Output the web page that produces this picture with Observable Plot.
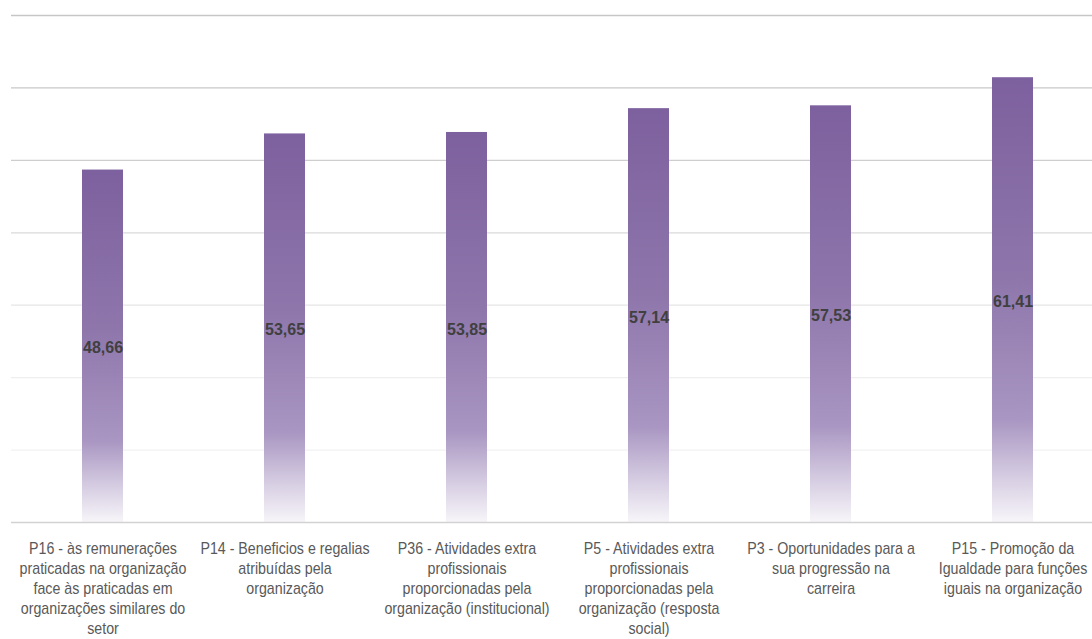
<!DOCTYPE html>
<html>
<head>
<meta charset="utf-8">
<script src="https://cdn.jsdelivr.net/npm/d3@7"></script>
<script src="https://cdn.jsdelivr.net/npm/@observablehq/plot@0.6"></script>
<style>
  html, body { margin: 0; padding: 0; background: #fff; overflow: hidden; }
  #chart { width: 1092px; height: 639px; overflow: hidden; }
  #chart svg { max-width: none !important; }
</style>
</head>
<body>
<div id="chart"></div>
<script>
// Category labels (wrapped as shown under each bar)
const categories = [
  "P16 - às remunerações\npraticadas na organização\nface às praticadas em\norganizações similares do\nsetor",
  "P14 - Beneficios e regalias\natribuídas pela\norganização",
  "P36 - Atividades extra\nprofissionais\nproporcionadas pela\norganização (institucional)",
  "P5 - Atividades extra\nprofissionais\nproporcionadas pela\norganização (resposta\nsocial)",
  "P3 - Oportunidades para a\nsua progressão na\ncarreira",
  "P15 - Promoção da\nIgualdade para funções\niguais na organização"
];
const values = [48.66, 53.65, 53.85, 57.14, 57.53, 61.41];

// Horizontal gridlines and their tones (darker at the top, fading downwards)
const gridTicks = [10, 20, 30, 40, 50, 60, 70];
const gridColors = ["#f2f2f2", "#eeeeee", "#e6e6e6", "#dadada", "#cecece", "#c8c8c8", "#c6c6c6"];

const data = categories.map((c, i) => ({category: c, value: values[i]}));
const grid = gridTicks.map((t, i) => ({tick: t, color: gridColors[i]}));
const fmt = v => v.toFixed(2).replace(".", ",");

const chart = Plot.plot({
  width: 1104,
  height: 639,
  marginLeft: 11,
  marginRight: 0,
  marginTop: 15,
  marginBottom: 117,
  style: {fontFamily: "'Liberation Sans', Arial, sans-serif", background: "#fff"},
  x: {domain: categories, paddingInner: 0.775, paddingOuter: 0.39, label: null},
  y: {domain: [0, 70], axis: null},
  color: {type: "identity"},
  marks: [
    Plot.ruleY(grid, {y: "tick", stroke: "color", strokeWidth: 1.3}),
    Plot.barY(data, {x: "category", y: "value", fill: "url(#barFade)"}),
    Plot.ruleY([0], {stroke: "#d2d2d2", strokeWidth: 1.5}),
    Plot.text(data, {
      x: "category",
      y: d => d.value / 2,
      text: d => fmt(d.value),
      fill: "#404040",
      fontWeight: "bold",
      fontSize: 16,
      dy: 2
    }),
    Plot.axisX({
      tickSize: 0,
      tickPadding: 17.5,
      fontSize: 16,
      lineHeight: 1.25,
      fill: "#595959",
      label: null
    })
  ]
});

// Vertical fade for each bar: purple at the top, fading to near-white at the base
const ns = "http://www.w3.org/2000/svg";
const defs = document.createElementNS(ns, "defs");
const grad = document.createElementNS(ns, "linearGradient");
grad.setAttribute("id", "barFade");
grad.setAttribute("x1", "0"); grad.setAttribute("y1", "0");
grad.setAttribute("x2", "0"); grad.setAttribute("y2", "1");
[["0", "#7d609e"], ["0.45", "#8e76ab"], ["0.77", "#a996c2"], ["0.9", "#d6cde2"], ["1", "#f7f5f9"]]
  .forEach(([o, c]) => {
    const s = document.createElementNS(ns, "stop");
    s.setAttribute("offset", o);
    s.setAttribute("stop-color", c);
    grad.appendChild(s);
  });
defs.appendChild(grad);
chart.insertBefore(defs, chart.firstChild);
chart.style.maxWidth = "none";

// Category labels use a slightly condensed set: narrow each label around its anchor
chart.querySelectorAll('g[aria-label$="tick label"] text').forEach(t => {
  const tr = t.getAttribute("transform") || "";
  const x = +t.getAttribute("x") || 0, y = +t.getAttribute("y") || 0;
  t.removeAttribute("x"); t.removeAttribute("y");
  t.setAttribute("transform", `${tr} translate(${x},${y}) scale(0.89,1)`);
});

document.getElementById("chart").appendChild(chart);
</script>
</body>
</html>
